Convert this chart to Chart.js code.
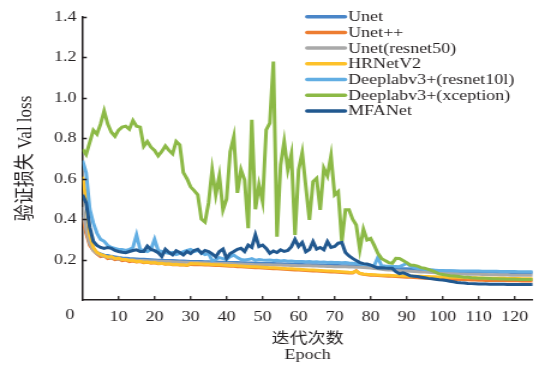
<!DOCTYPE html>
<html>
<head>
<meta charset="utf-8">
<script src="https://cdn.jsdelivr.net/npm/chart.js@4.4.1/dist/chart.umd.min.js"></script>
<style>
html,body{margin:0;padding:0;background:#fff;overflow:hidden;}
#wrap{width:539px;height:368px;position:relative;overflow:hidden;}
#c{display:block;transform:scaleX(1.2004);transform-origin:0 0;}
</style>
</head>
<body>
<div id="wrap"><canvas id="c" width="449" height="368"></canvas></div>
<script>
const epochs = Array.from({length: 126}, (_, i) => i);
const xTicks = [0,10,20,30,40,50,60,70,80,90,100,110,120];
const yTicks = [0,0.2,0.4,0.6,0.8,1.0,1.2,1.4];
const seriesNames = ['Unet','Unet++','Unet(resnet50)','HRNetV2','Deeplabv3+(resnet10l)','Deeplabv3+(xception)','MFANet'];
const seriesColors = ['#4A86C8','#ED7D31','#A9A9A9','#FDC12A','#62AEE3','#8CB946','#21588F'];

const unet = [0.42,0.34,0.28,0.25,0.235,0.228,0.222,0.22,0.216,0.213,
0.21,0.208,0.207,0.205,0.204,0.203,0.202,0.201,0.2,0.199,
0.198,0.197,0.197,0.196,0.195,0.195,0.194,0.193,0.193,0.192,
0.191,0.191,0.19,0.19,0.189,0.189,0.188,0.188,0.187,0.187,
0.186,0.186,0.185,0.185,0.184,0.184,0.183,0.183,0.182,0.182,
0.181,0.181,0.18,0.18,0.179,0.179,0.178,0.178,0.177,0.177,
0.176,0.176,0.175,0.175,0.174,0.174,0.173,0.173,0.172,0.172,
0.171,0.171,0.17,0.17,0.169,0.169,0.168,0.167,0.166,0.165,
0.164,0.163,0.162,0.161,0.16,0.159,0.158,0.157,0.156,0.155,
0.154,0.153,0.152,0.151,0.15,0.149,0.148,0.147,0.146,0.145,
0.144,0.143,0.143,0.142,0.142,0.141,0.141,0.14,0.14,0.139,
0.139,0.139,0.138,0.138,0.138,0.137,0.137,0.137,0.137,0.136,
0.136,0.136,0.136,0.136,0.135,0.135];

const unetpp = [0.41,0.33,0.27,0.245,0.228,0.215,0.218,0.205,0.208,0.2,
0.203,0.195,0.198,0.19,0.193,0.188,0.19,0.185,0.187,0.182,
0.184,0.18,0.181,0.177,0.179,0.175,0.176,0.173,0.174,0.171,
0.176,0.175,0.175,0.174,0.173,0.173,0.172,0.171,0.171,0.169,
0.168,0.167,0.167,0.165,0.164,0.163,0.162,0.161,0.16,0.159,
0.158,0.157,0.156,0.155,0.154,0.153,0.152,0.151,0.15,0.149,
0.148,0.147,0.146,0.145,0.144,0.143,0.142,0.141,0.14,0.139,
0.138,0.137,0.136,0.135,0.133,0.134,0.145,0.13,0.127,0.125,
0.123,0.122,0.121,0.12,0.119,0.118,0.117,0.116,0.115,0.114,
0.113,0.112,0.111,0.11,0.109,0.108,0.107,0.106,0.105,0.104,
0.104,0.103,0.102,0.102,0.101,0.101,0.1,0.1,0.099,0.099,
0.098,0.098,0.097,0.097,0.097,0.096,0.096,0.096,0.095,0.095,
0.095,0.095,0.094,0.094,0.094,0.094];

const unetRes50 = [0.46,0.35,0.28,0.245,0.23,0.222,0.216,0.212,0.208,0.205,
0.203,0.201,0.2,0.199,0.198,0.197,0.196,0.195,0.194,0.193,
0.193,0.192,0.191,0.19,0.19,0.189,0.188,0.188,0.187,0.187,
0.186,0.185,0.185,0.184,0.184,0.183,0.183,0.182,0.181,0.181,
0.18,0.18,0.179,0.178,0.178,0.177,0.177,0.176,0.175,0.175,
0.174,0.174,0.174,0.173,0.173,0.173,0.172,0.172,0.171,0.171,
0.17,0.17,0.169,0.169,0.168,0.168,0.167,0.167,0.166,0.166,
0.165,0.165,0.164,0.164,0.163,0.163,0.162,0.162,0.161,0.16,
0.158,0.156,0.154,0.152,0.15,0.149,0.148,0.146,0.145,0.144,
0.143,0.142,0.141,0.14,0.139,0.138,0.137,0.136,0.135,0.134,
0.133,0.132,0.131,0.13,0.13,0.129,0.129,0.128,0.128,0.127,
0.127,0.126,0.126,0.125,0.125,0.125,0.124,0.124,0.124,0.123,
0.123,0.123,0.122,0.122,0.122,0.122];

const hrnet = [0.61,0.5,0.32,0.26,0.235,0.225,0.22,0.212,0.215,0.205,
0.207,0.2,0.2,0.195,0.196,0.19,0.192,0.187,0.188,0.184,
0.185,0.181,0.182,0.178,0.179,0.176,0.177,0.174,0.174,0.172,
0.18,0.179,0.179,0.178,0.177,0.177,0.176,0.175,0.175,0.173,
0.172,0.171,0.171,0.169,0.168,0.167,0.166,0.165,0.164,0.163,
0.162,0.161,0.16,0.159,0.158,0.157,0.156,0.155,0.154,0.153,
0.152,0.151,0.15,0.149,0.148,0.147,0.146,0.145,0.144,0.143,
0.142,0.141,0.14,0.139,0.137,0.136,0.142,0.132,0.129,0.127,
0.126,0.125,0.124,0.123,0.122,0.122,0.121,0.12,0.12,0.119,
0.119,0.118,0.118,0.117,0.117,0.116,0.116,0.115,0.115,0.114,
0.114,0.113,0.113,0.112,0.112,0.111,0.111,0.11,0.11,0.11,
0.109,0.109,0.108,0.108,0.108,0.107,0.107,0.107,0.106,0.106,
0.106,0.106,0.105,0.105,0.105,0.105];

const deeplabRes = [0.69,0.63,0.45,0.38,0.33,0.30,0.29,0.27,0.26,0.255,
0.25,0.25,0.245,0.25,0.26,0.322,0.25,0.245,0.24,0.25,
0.30,0.245,0.24,0.235,0.23,0.235,0.225,0.23,0.24,0.245,
0.25,0.24,0.245,0.235,0.225,0.23,0.195,0.2,0.21,0.205,
0.2,0.215,0.222,0.21,0.2,0.198,0.2,0.205,0.196,0.2,
0.198,0.197,0.198,0.195,0.196,0.193,0.195,0.192,0.193,0.19,
0.191,0.19,0.189,0.19,0.188,0.189,0.187,0.188,0.186,0.187,
0.185,0.186,0.184,0.185,0.183,0.182,0.18,0.178,0.176,0.175,
0.172,0.17,0.211,0.17,0.168,0.167,0.166,0.166,0.165,0.172,
0.182,0.168,0.16,0.156,0.154,0.151,0.149,0.148,0.147,0.146,
0.146,0.145,0.145,0.145,0.144,0.144,0.144,0.143,0.143,0.143,
0.143,0.142,0.142,0.142,0.142,0.142,0.141,0.141,0.141,0.141,
0.141,0.14,0.14,0.14,0.14,0.14];

const deeplabXce = [0.746,0.72,0.78,0.84,0.82,0.87,0.935,0.87,0.83,0.81,
0.84,0.855,0.86,0.845,0.888,0.86,0.855,0.76,0.784,0.756,
0.74,0.713,0.735,0.762,0.74,0.723,0.784,0.767,0.63,0.60,
0.56,0.541,0.52,0.40,0.385,0.48,0.644,0.52,0.614,0.446,
0.50,0.734,0.808,0.53,0.644,0.594,0.355,0.891,0.449,0.569,
0.487,0.842,0.875,1.18,0.313,0.668,0.784,0.644,0.723,0.322,
0.644,0.729,0.561,0.396,0.586,0.602,0.446,0.652,0.614,0.713,
0.52,0.536,0.289,0.446,0.446,0.40,0.371,0.25,0.35,0.297,
0.305,0.27,0.231,0.206,0.195,0.185,0.182,0.206,0.205,0.195,
0.185,0.173,0.172,0.168,0.16,0.157,0.152,0.145,0.138,0.129,
0.126,0.123,0.12,0.119,0.117,0.115,0.113,0.112,0.11,0.109,
0.108,0.107,0.107,0.106,0.105,0.105,0.104,0.104,0.103,0.103,
0.103,0.102,0.102,0.102,0.101,0.101];

const mfanet = [0.52,0.48,0.36,0.29,0.27,0.26,0.255,0.26,0.256,0.245,
0.24,0.236,0.234,0.24,0.245,0.248,0.24,0.24,0.267,0.25,
0.244,0.234,0.215,0.251,0.235,0.223,0.244,0.235,0.223,0.24,
0.23,0.245,0.251,0.231,0.245,0.24,0.228,0.214,0.24,0.252,
0.206,0.23,0.24,0.251,0.256,0.24,0.272,0.26,0.322,0.264,
0.272,0.255,0.231,0.242,0.235,0.248,0.24,0.245,0.264,0.30,
0.265,0.285,0.239,0.25,0.289,0.252,0.26,0.248,0.289,0.26,
0.265,0.281,0.284,0.235,0.218,0.206,0.195,0.185,0.18,0.178,
0.173,0.165,0.158,0.16,0.158,0.157,0.157,0.14,0.13,0.134,
0.128,0.12,0.118,0.116,0.113,0.11,0.107,0.105,0.103,0.1,
0.099,0.096,0.093,0.09,0.087,0.085,0.084,0.082,0.081,0.08,
0.079,0.079,0.079,0.078,0.078,0.078,0.078,0.078,0.077,0.077,
0.077,0.077,0.077,0.077,0.077,0.077];

const seriesValues = [unet, unetpp, unetRes50, hrnet, deeplabRes, deeplabXce, mfanet];

const FONT = "'Liberation Serif', 'Noto Sans CJK SC', serif";
const INK = '#231F20';

const datasets = seriesValues.map((vals, i) => ({
  label: seriesNames[i],
  data: vals.map((v, k) => ({x: epochs[k], y: v})),
  borderColor: seriesColors[i],
  backgroundColor: seriesColors[i],
  borderWidth: 3,
  pointRadius: 0,
  tension: 0,
  fill: false,
  order: seriesValues.length - i
}));

const extras = {
  id: 'extras',
  afterDraw(chart) {
    const ctx = chart.ctx;
    const xs = chart.scales.x, ys = chart.scales.y;
    ctx.save();
    ctx.strokeStyle = INK;
    ctx.lineWidth = 1.3;
    ctx.beginPath();
    xTicks.forEach(v => {
      if (v === 0) return;
      const px = xs.getPixelForValue(v);
      ctx.moveTo(px, ys.bottom);
      ctx.lineTo(px, ys.bottom - 4);
    });
    yTicks.forEach(v => {
      if (v === 0) return;
      const py = Math.round(ys.getPixelForValue(v)) + 0.5;
      ctx.moveTo(xs.left, py);
      ctx.lineTo(xs.left + 3.5, py);
    });
    ctx.stroke();
    ctx.fillStyle = INK;
    ctx.font = '15px ' + FONT;
    ctx.textAlign = 'center';
    ctx.textBaseline = 'middle';
    ctx.fillText('0', xs.getPixelForValue(0) - 10.4, ys.getPixelForValue(0) + 15);
    const lx0 = 255.8, lx1 = 287.5, tx = 290, ly0 = 16.7, step = 15.7;
    ctx.font = '15px ' + FONT;
    ctx.textAlign = 'left';
    chart.data.datasets.forEach((ds, i) => {
      const y = ly0 + i * step;
      ctx.strokeStyle = ds.borderColor;
      ctx.lineWidth = 3.5;
      ctx.lineCap = 'round';
      ctx.beginPath();
      ctx.moveTo(lx0, y);
      ctx.lineTo(lx1, y);
      ctx.stroke();
      ctx.fillStyle = INK;
      ctx.fillText(ds.label, tx, y + 0.5);
    });
    ctx.restore();
  }
};

new Chart(document.getElementById('c'), {
  type: 'line',
  data: { datasets },
  options: {
    responsive: false,
    animation: false,
    events: [],
    devicePixelRatio: 1,
    layout: { padding: { top: 17, right: 5.25, bottom: 0, left: 0 } },
    plugins: { legend: { display: false }, tooltip: { enabled: false } },
    scales: {
      x: {
        type: 'linear',
        min: 0, max: 125,
        afterBuildTicks: s => { s.ticks = xTicks.map(v => ({value: v})); },
        afterFit: s => { s.height = 68; },
        grid: { display: false, drawTicks: false },
        border: { display: true, color: INK, width: 1.5 },
        ticks: {
          color: INK, font: { family: FONT, size: 15 }, padding: 8, maxRotation: 0, autoSkip: false,
          callback: v => v === 0 ? '' : String(v)
        },
        title: {
          display: true, text: ['迭代次数', 'Epoch'], color: INK,
          font: { family: FONT, size: 15, lineHeight: 1.13 }, padding: { top: 0, bottom: 4 }
        }
      },
      y: {
        min: 0, max: 1.4,
        afterBuildTicks: s => { s.ticks = yTicks.map(v => ({value: v})); },
        afterFit: s => { s.width = 68.75; },
        grid: { display: false, drawTicks: false },
        border: { display: true, color: INK, width: 1.5 },
        ticks: {
          color: INK, font: { family: FONT, size: 15 }, padding: 5,
          callback: v => v === 0 ? '' : v.toFixed(1)
        },
        title: {
          display: true, text: '验证损失 Val loss', color: INK,
          font: { family: FONT, size: 17 }, padding: { top: 11, bottom: 0 }
        }
      }
    }
  },
  plugins: [extras]
});
</script>
</body>
</html>
